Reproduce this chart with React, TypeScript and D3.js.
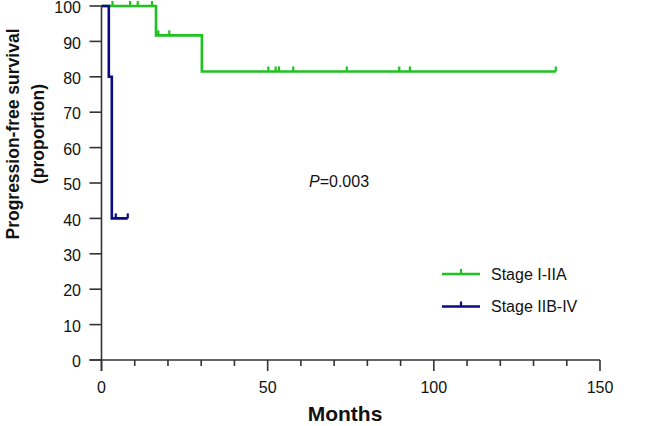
import React from "react";
import * as d3 from "d3";

// ---- Data ----
const xTicks = [0, 50, 100, 150];
const xMinorTicks = [10, 20, 30, 40, 60, 70, 80, 90, 110, 120, 130, 140];
const yTicks = [0, 10, 20, 30, 40, 50, 60, 70, 80, 90, 100];

const series1Name = "Stage I-IIA";
const series1StepTimes = [0, 16.4, 30.2];
const series1StepValues = [100, 91.7, 81.5];
const series1End = 136.7;
const series1Censored = [3.3, 8.6, 10.9, 15.2, 17.1, 20.4, 50.2, 52.4, 53.4, 57.7, 73.8, 89.6, 92.8, 136.7];

const series2Name = "Stage IIB-IV";
const series2StepTimes = [0, 2.2, 3.1];
const series2StepValues = [100, 80, 40];
const series2End = 7.9;
const series2Censored = [4.3, 7.9];

const pValueLabel = "=0.003";
const xTitle = "Months";
const yTitle1 = "Progression-free survival";
const yTitle2 = "(proportion)";

const GREEN = "#1ec31e";
const BLUE = "#0a0a82";
const AXIS = "#333";

function survAt(times: number[], vals: number[], t: number) {
  let v = vals[0];
  for (let i = 0; i < times.length; i++) if (t >= times[i]) v = vals[i];
  return v;
}

export default function App() {
  const W = 647, H = 426;
  const x = d3.scaleLinear().domain([0, 150]).range([101.5, 600]);
  const y = d3.scaleLinear().domain([0, 100]).range([360, 6]);
  const line = d3.line<[number, number]>()
    .x((d) => x(d[0]))
    .y((d) => y(d[1]))
    .curve(d3.curveStepAfter);

  const series = [
    { name: series1Name, times: series1StepTimes, vals: series1StepValues, end: series1End, cens: series1Censored, color: GREEN },
    { name: series2Name, times: series2StepTimes, vals: series2StepValues, end: series2End, cens: series2Censored, color: BLUE },
  ];

  const font = "Liberation Sans, Arial, Helvetica, sans-serif";

  return (
    <div style={{ position: "absolute", left: 0, top: 0 }}>
      <svg width={W} height={H} style={{ display: "block", fontFamily: font }}>
        <rect width={W} height={H} fill="#fff" />
        {series.map((s) => {
          const pts: [number, number][] = s.times.map((t, i) => [t, s.vals[i]] as [number, number]);
          pts.push([s.end, s.vals[s.vals.length - 1]]);
          return (
            <g key={s.name}>
              <path d={line(pts) || ""} fill="none" stroke={s.color} strokeWidth={2.6} />
              {s.cens.map((c, i) => {
                const v = survAt(s.times, s.vals, c);
                return (
                  <line key={i} x1={x(c)} x2={x(c)} y1={y(v)} y2={y(v) - 5} stroke={s.color} strokeWidth={2.2} />
                );
              })}
            </g>
          );
        })}
        {/* y axis */}
        <line x1={x(0)} x2={x(0)} y1={y(100)} y2={y(0) + 11} stroke={AXIS} strokeWidth={1.6} />
        {yTicks.map((t) => (
          <g key={t}>
            <line x1={x(0) - 12} x2={x(0)} y1={y(t)} y2={y(t)} stroke={AXIS} strokeWidth={1.6} />
            <text x={81} y={y(t)} dy="0.45em" textAnchor="end" fontSize={16} fill="#111">{t}</text>
          </g>
        ))}
        {/* x axis */}
        <line x1={x(0) - 12} x2={x(150)} y1={y(0)} y2={y(0)} stroke={AXIS} strokeWidth={1.6} />
        {xTicks.map((t) => (
          <g key={t}>
            <line x1={x(t)} x2={x(t)} y1={y(0)} y2={y(0) + 11} stroke={AXIS} strokeWidth={1.6} />
            <text x={x(t)} y={393} textAnchor="middle" fontSize={16} fill="#111">{t}</text>
          </g>
        ))}
        {xMinorTicks.map((t) => (
          <line key={t} x1={x(t)} x2={x(t)} y1={y(0)} y2={y(0) + 6} stroke={AXIS} strokeWidth={1.6} />
        ))}
        {/* titles */}
        <text x={345} y={421} textAnchor="middle" fontSize={21} fontWeight="bold" fill="#111">{xTitle}</text>
        <text transform="translate(19,134) rotate(-90)" textAnchor="middle" fontSize={17.5} fontWeight="bold" fill="#111">{yTitle1}</text>
        <text transform="translate(44,134) rotate(-90)" textAnchor="middle" fontSize={17.5} fontWeight="bold" fill="#111">{yTitle2}</text>
        {/* p value */}
        <text x={309} y={187} fontSize={16} fill="#111">
          <tspan fontStyle="italic">P</tspan>{pValueLabel}
        </text>
        {/* legend */}
        {series.map((s, i) => {
          const ly = 274 + i * 32.5;
          return (
            <g key={s.name}>
              <line x1={442} x2={480} y1={ly} y2={ly} stroke={s.color} strokeWidth={2.6} />
              <line x1={461} x2={461} y1={ly} y2={ly - 5} stroke={s.color} strokeWidth={2.2} />
              <text x={491} y={ly} dy="0.36em" fontSize={16} fill="#111">{s.name}</text>
            </g>
          );
        })}
      </svg>
    </div>
  );
}
